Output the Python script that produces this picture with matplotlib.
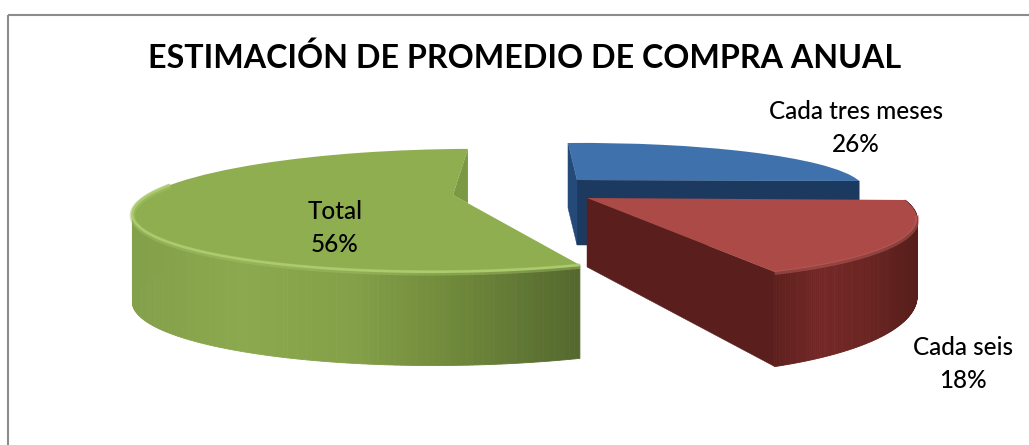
import numpy as np
import matplotlib
matplotlib.use("Agg")
import matplotlib.pyplot as plt
from matplotlib.transforms import Transform
from matplotlib.colors import LinearSegmentedColormap
from matplotlib.patches import Rectangle

title = "ESTIMACIÓN DE PROMEDIO DE COMPRA ANUAL"
labels = ["Cada tres meses", "Cada seis", "Total"]
values = [26, 18, 56]
colors_top = ["#3f72ad", "#ab4a46", "#8fae50"]
colors_wall = ["#1c3a5f", "#5a1f1c", "#6d8639"]


class Persp(Transform):
    input_dims = 2
    output_dims = 2
    is_affine = False
    has_inverse = False

    def __init__(self, ax_, ay_, m, p):
        super().__init__()
        self.ox, self.oy, self.m, self.p = ax_, ay_, m, p

    def transform_non_affine(self, v):
        v = np.asarray(v, float)
        den = 1 + self.p * v[:, 1]
        u, w = v[:, 0] / den, v[:, 1] / den
        a, b, c, d = self.m
        return np.column_stack([self.ox + a * u + b * w, self.oy - (c * u + d * w)])


plt.rcParams['font.family'] = ['Lato', 'DejaVu Sans']
fig = plt.figure(figsize=(10.29, 4.45), dpi=100)
ax = fig.add_axes([0, 0, 1, 1])

wedges, _ = ax.pie(values, startangle=86.5, counterclock=False, colors=colors_top,
                   wedgeprops=dict(linewidth=0))
ax.set_aspect('auto')
ax.set_xlim(0, 1029)
ax.set_ylim(445, 0)
ax.axis('off')

persp = [
    Persp(577, 180, (273.9, -27.6, 4.54, 44.2), 0.2),
    Persp(587, 198, (305.0, -60.2, 6.15, 65.0), 0.2),
    Persp(453, 195, (310.5, -0.3, 4.0, 57.5), 0.25),
]
depth = [(65, 0.0), (69, 1.5), (86, 0.3)]


def rim(i, th):
    th = np.radians(th)
    pts = np.column_stack([np.cos(th), np.sin(th)])
    xy = persp[i].transform_non_affine(pts)
    den = 1 + persp[i].p * pts[:, 1]
    d = depth[i][0] * den ** (-depth[i][1])
    return xy, d


def apex(i):
    return persp[i].transform_non_affine(np.array([[0.0, 0.0]]))[0]


def wall_cut(i, ang, col, z):
    xy, d = rim(i, np.array([ang]))
    a = apex(i)
    d0 = depth[i][0]
    ax.fill([a[0], xy[0, 0], xy[0, 0], a[0]],
            [a[1], xy[0, 1], xy[0, 1] + d[0], a[1] + d0],
            color=col, lw=0.3, zorder=z)


def wall_arc(i, t0, t1, cmap, z):
    th = np.linspace(t0, t1, 160)
    xy, d = rim(i, th)
    xmin, xmax = xy[:, 0].min(), xy[:, 0].max()
    for k in range(len(th) - 1):
        xs = [xy[k, 0], xy[k + 1, 0], xy[k + 1, 0], xy[k, 0]]
        ys = [xy[k, 1], xy[k + 1, 1], xy[k + 1, 1] + d[k + 1], xy[k, 1] + d[k]]
        col = cmap((xy[k, 0] - xmin) / (xmax - xmin))
        ax.fill(xs, ys, color=col, lw=0.6, zorder=z)


blue_start, blue_end = 86.5, 86.5 - values[0] * 3.6
red_end = blue_end - values[1] * 3.6

wall_cut(0, blue_end, colors_wall[0], 1)
wall_cut(0, blue_start, "#234a78", 1)
red_cmap = LinearSegmentedColormap.from_list("r", ["#5e201d", "#742826", "#6a2421", "#571e1b"])
wall_arc(1, blue_end, red_end, red_cmap, 3)
wall_cut(1, red_end, colors_wall[1], 3)
green_cmap = LinearSegmentedColormap.from_list(
    "g", ["#83a04a", "#8ba94e", "#84a048", "#6d8639", "#55692f"])
wall_arc(2, red_end, red_end - 122.6, green_cmap, 2)

for i, w in enumerate(wedges):
    w.set_transform(persp[i] + ax.transData)
    w.set_zorder(4 + (i == 1))
    w.set_clip_on(False)

a = apex(2)
top, _ = rim(2, np.array([blue_start]))
cut, _ = rim(2, np.array([red_end]))
f = (top[0, 0] - a[0]) / (cut[0, 0] - a[0])
ax.fill([a[0], top[0, 0], top[0, 0]], [a[1], top[0, 1], a[1] + f * (cut[0, 1] - a[1])],
        color="#7b9843", lw=0, zorder=5)

# bevel along the near rims
th = np.linspace(red_end, red_end - 122.6, 160)
xy, _ = rim(2, th)
ax.plot(xy[:, 0], xy[:, 1] + 1, color="#a3c266", lw=4.0, alpha=0.45, zorder=6, solid_capstyle='butt')
ax.plot(xy[:, 0], xy[:, 1], color="#abcb6e", lw=1.8, zorder=6, solid_capstyle='butt')
xy, _ = rim(1, np.linspace(blue_end - 12, red_end, 60))
ax.plot(xy[:, 0], xy[:, 1] + 1, color="#b9605c", lw=3.0, alpha=0.5, zorder=6, solid_capstyle='butt')

ax.add_patch(Rectangle((8, 15), 1040, 500, fill=False, ec="#8c8c8c", lw=1.5, zorder=0))

ax.text(525, 58, title, ha='center', va='center', fontsize=23.2, color='black',
        fontweight='bold', zorder=8)
pos = [(856, 128), (963, 364), (335, 228)]
for (x, y), lab, v in zip(pos, labels, values):
    ax.text(x, y, f"{lab}\n{v}%", ha='center', va='center', fontsize=17.5, color='black',
            fontweight='medium', linespacing=1.5, zorder=8)

fig.savefig("out.png", dpi=100)
